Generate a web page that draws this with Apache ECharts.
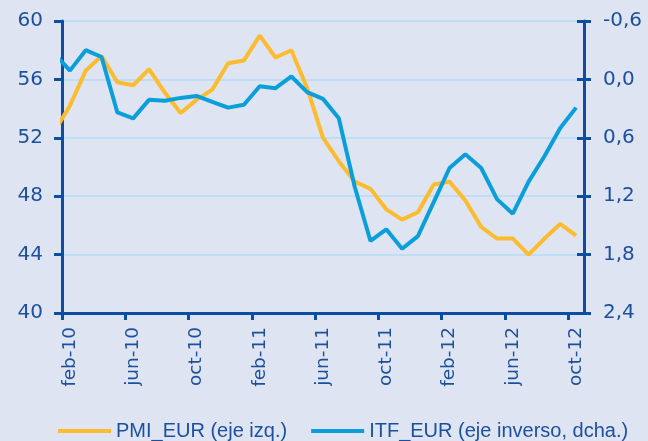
<!DOCTYPE html>
<html>
<head>
<meta charset="utf-8">
<script src="https://cdn.jsdelivr.net/npm/echarts@6/dist/echarts.min.js"></script>
<style>
html,body{margin:0;padding:0;background:#dee4f2;}
#chart{width:648px;height:441px;}
</style>
</head>
<body>
<div id="chart"></div>
<script>
// Monthly observations (jan-10 .. oct-12)
const months = ['ene-10','feb-10','mar-10','abr-10','may-10','jun-10','jul-10','ago-10','sep-10','oct-10','nov-10','dic-10',
                'ene-11','feb-11','mar-11','abr-11','may-11','jun-11','jul-11','ago-11','sep-11','oct-11','nov-11','dic-11',
                'ene-12','feb-12','mar-12','abr-12','may-12','jun-12','jul-12','ago-12','sep-12','oct-12'];
const pmiEur = [52.4,54.2,56.6,57.6,55.8,55.6,56.7,55.1,53.7,54.6,55.3,57.1,
                57.3,59.0,57.5,58.0,55.4,52.0,50.4,49.0,48.5,47.1,46.4,46.9,
                48.8,49.0,47.7,45.9,45.1,45.1,44.0,45.1,46.1,45.3];
const itfEur = [-0.27,-0.09,-0.30,-0.23,0.34,0.40,0.21,0.22,0.19,0.17,0.23,0.29,
                0.26,0.07,0.09,-0.03,0.13,0.20,0.40,1.10,1.66,1.54,1.74,1.61,
                1.26,0.91,0.77,0.91,1.23,1.38,1.05,0.79,0.50,0.29];
// x-axis tick labels (every 4 months starting feb-10)
const xTickLabels = ['feb-10','jun-10','oct-10','feb-11','jun-11','oct-11','feb-12','jun-12','oct-12'];
const seriesNames = ['PMI_EUR (eje izq.)','ITF_EUR (eje inverso, dcha.)'];

const axisColor = '#0b4ea2';
const textColor = '#1b4f9f';
// month slot index: feb-10 slot spans [0,1], points at slot centre
const xOf = i => i - 1 + 0.5;
const tickVals = xTickLabels.map((_, k) => k * 4);
const labelVals = xTickLabels.map((_, k) => k * 4 + 0.5);

const chart = echarts.init(document.getElementById('chart'), null, {renderer:'canvas'});
chart.setOption({
  backgroundColor: '#dee4f2',
  animation: false,
  grid: {left: 62, right: 64, top: 21, bottom: 128, containLabel: false},
  legend: {
    left: 53, top: 416,
    itemWidth: 53, itemHeight: 4, itemGap: 24,
    icon: 'rect',
    textStyle: {fontFamily: 'Liberation Sans', fontSize: 20, color: textColor},
    data: seriesNames
  },
  xAxis: {
    type: 'value', min: 0, max: 33,
    axisLine: {show: true, onZero: false, lineStyle: {color: axisColor, width: 3}},
    axisTick: {show: true, length: 7, lineStyle: {color: axisColor, width: 3}, customValues: tickVals},
    axisLabel: {
      show: true, rotate: 90, margin: 14, customValues: labelVals,
      fontFamily: 'DejaVu Sans', fontSize: 18.5, color: textColor,
      formatter: v => xTickLabels[Math.round((v - 0.5) / 4)]
    },
    splitLine: {show: false}
  },
  yAxis: [
    {
      type: 'value', position: 'left', min: 40, max: 60, interval: 4,
      axisLine: {show: true, onZero: false, lineStyle: {color: axisColor, width: 3}},
      axisTick: {show: true, length: 8, lineStyle: {color: axisColor, width: 3}},
      axisLabel: {margin: 19, fontFamily: 'DejaVu Sans', fontSize: 20, color: textColor},
      splitLine: {show: true, lineStyle: {color: '#b2ddf4', width: 1.5}}
    },
    {
      type: 'value', position: 'right', min: -0.6, max: 2.4, interval: 0.6, inverse: true,
      axisLine: {show: true, onZero: false, lineStyle: {color: axisColor, width: 3}},
      axisTick: {show: true, length: 7, lineStyle: {color: axisColor, width: 3}},
      axisLabel: {margin: 19, fontFamily: 'DejaVu Sans', fontSize: 20, color: textColor,
                  formatter: v => v.toFixed(1).replace('.', ',')},
      splitLine: {show: false}
    },
    {
      type: 'value', position: 'right', min: -0.6, max: 2.4, interval: 0.6, inverse: true,
      axisLine: {show: false, onZero: false},
      axisTick: {show: true, inside: true, length: 7, lineStyle: {color: axisColor, width: 3}},
      axisLabel: {show: false},
      splitLine: {show: false}
    }
  ],
  series: [
    {
      name: seriesNames[0], type: 'line', yAxisIndex: 0, showSymbol: false, symbol: 'none',
      clip: true,
      color: '#fdbb30',
      lineStyle: {color: '#fdbb30', width: 4},
      data: pmiEur.map((v, i) => [xOf(i), v])
    },
    {
      name: seriesNames[1], type: 'line', yAxisIndex: 1, showSymbol: false, symbol: 'none',
      clip: true,
      color: '#0a9edb',
      lineStyle: {color: '#0a9edb', width: 4},
      data: itfEur.map((v, i) => [xOf(i), v])
    }
  ]
});
</script>
</body>
</html>
